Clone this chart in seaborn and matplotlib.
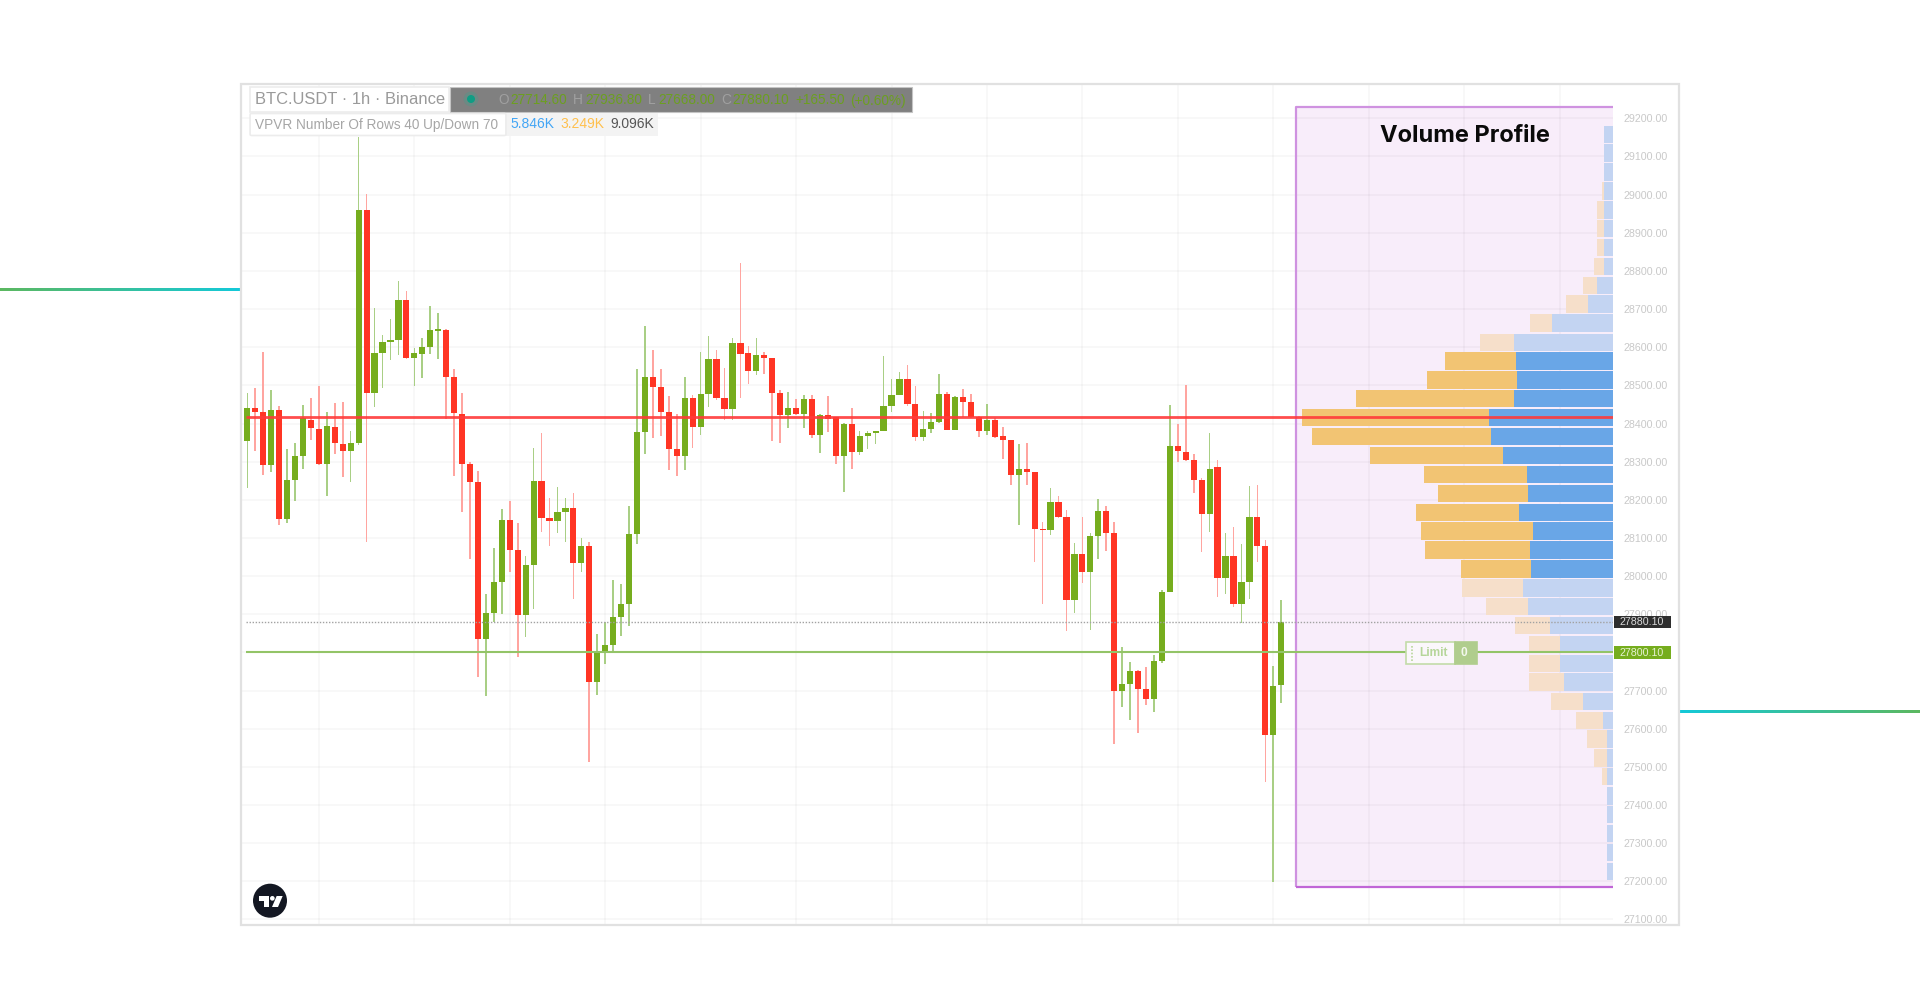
import numpy as np
import pandas as pd
import matplotlib
matplotlib.use("Agg")
import matplotlib.pyplot as plt
from matplotlib.colors import LinearSegmentedColormap
from matplotlib.patches import Rectangle, Ellipse, Polygon, FancyBboxPatch
from matplotlib.lines import Line2D
import seaborn as sns

# ---------- data ----------
opens = [28355,28441,28430,28290,28436,28150,28252,28315,28409,28386,
         28293,28392,28347,28328,28349,28959,28481,28585,28613,28620,
         28724,28572,28583,28601,28643,28645,28522,28426,28295,28246,
         27834,27903,27984,28148,28068,27897,28028,28250,28153,28145,
         28168,28179,28034,28080,27723,27799,27819,27893,27928,28110,
         28377,28521,28495,28430,28333,28315,28467,28391,28477,28570,
         28466,28437,28610,28584,28537,28579,28571,28481,28423,28440,
         28424,28463,28371,28422,28417,28315,28400,28325,28366,28376,
         28380,28446,28476,28516,28450,28364,28386,28405,28477,28384,
         28469,28457,28416,28381,28409,28366,28357,28264,28280,28273,
         28124,28122,28193,28156,27938,28059,28010,28106,28171,28114,
         27699,27718,27752,27704,27679,27777,27958,28341,28326,28304,
         28253,28163,28287,27994,28053,27927,27984,28156,28080,27583,27714.6]
closes = [28441,28431,28290,28436,28150,28252,28315,28414,28388,28293,
          28393,28348,28328,28348,28959,28481,28585,28613,28620,28724,
          28572,28584,28601,28645,28647,28522,28428,28295,28246,27834,
          27902,27984,28148,28068,27897,28028,28250,28153,28145,28168,
          28179,28035,28080,27723,27799,27819,27893,27928,28110,28377,
          28521,28495,28430,28334,28315,28467,28391,28477,28570,28466,
          28437,28610,28582,28537,28579,28571,28481,28423,28440,28424,
          28463,28371,28422,28413,28315,28400,28325,28366,28376,28381,
          28446,28476,28516,28450,28364,28386,28405,28477,28384,28470,
          28457,28416,28381,28409,28365,28356,28264,28280,28273,28123,
          28121,28193,28155,27938,28059,28010,28106,28171,28114,27699,
          27718,27752,27704,27679,27777,27958,28341,28327,28304,28253,
          28163,28282,27994,28053,27927,27985,28156,28080,27583,27713,27880.1]
highs = [28479,28492,28588,28489,28446,28332,28348,28448,28466,28499,
         28429,28455,28457,28381,29152,29001,28702,28632,28674,28774,
         28748,28597,28623,28709,28689,28649,28543,28481,28300,28275,
         27953,28074,28177,28197,28138,28053,28336,28374,28206,28234,
         28204,28217,28101,28090,27847,27880,27991,27979,28184,28544,
         28655,28592,28543,28472,28426,28523,28474,28588,28630,28594,
         28546,28625,28820,28603,28625,28588,28573,28488,28483,28463,
         28474,28476,28424,28473,28418,28402,28441,28380,28380,28381,
         28577,28516,28536,28553,28499,28433,28428,28529,28483,28472,
         28490,28477,28419,28450,28415,28390,28358,28346,28348,28274,
         28142,28230,28211,28173,28087,28156,28114,28203,28183,28142,
         27813,27775,27755,27762,27793,27963,28448,28398,28501,28320,
         28256,28374,28304,28112,28129,28084,28236,28238,28094,27764,27936.8]
lows = [28232,28328,28266,28272,28135,28140,28196,28280,28356,28291,
        28211,28319,28259,28246,28343,28090,28444,28492,28566,28579,
        28568,28499,28518,28581,28568,28411,28262,28169,28046,27736,
        27686,27880,27900,28011,27787,27841,27915,28116,28080,28112,
        28090,27941,28011,27512,27688,27769,27799,27844,27870,28083,
        28320,28361,28367,28278,28263,28278,28336,28369,28444,28461,
        28409,28409,28468,28503,28527,28531,28354,28350,28389,28422,
        28389,28361,28322,28377,28293,28221,28280,28317,28332,28345,
        28380,28430,28474,28446,28355,28355,28374,28402,28383,28383,
        28416,28415,28365,28370,28361,28307,28240,28135,28240,28038,
        27928,28108,28153,27857,27902,27981,27858,28044,28066,27561,
        27658,27623,27589,27661,27644,27771,27958,28300,28301,28217,
        28064,28116,27946,27953,27920,27876,27939,28038,27461,27199,27668]

row_prices = [27226,27276,27325,27375,27424,27474,27523,27573,27622,27672,
              27722,27771,27821,27870,27920,27969,28019,28068,28118,28167,
              28217,28267,28316,28366,28415,28465,28514,28564,28613,28663,
              28713,28762,28812,28861,28911,28960,29010,29059,29109,29158]
vol_up = [.155,.155,.155,.155,.155,.155,.155,.155,.272,.870,
          1.427,1.532,1.532,1.846,2.482,2.616,2.403,2.432,2.344,2.745,
          2.470,2.511,3.214,3.566,3.613,2.880,2.792,2.833,2.901,1.779,
          .724,.448,.243,.243,.243,.243,.243,.243,.243,.243]
vol_down = [0,0,0,0,0,.155,.381,.607,.791,.929,
            1.026,.917,.917,1.017,1.222,1.796,2.051,3.056,3.273,3.009,
            2.637,3.027,3.906,5.245,5.479,4.638,2.646,2.072,.987,.653,
            .645,.410,.314,.205,.205,.205,.059,0,0,0]
value_area = [0]*16 + [1]*12 + [0]*12

price_ticks = [27100,27200,27300,27400,27500,27600,27700,27800,27900,28000,28100,
               28200,28300,28400,28500,28600,28700,28800,28900,29000,29100,29200]
time_ticks = [9,21,33,45,57,69,81,93,105,117,129,141,153,165]
poc_price = 28417
last_price = 27880.10
limit_price = 27800.10

# ---------- style ----------
GREEN, RED = "#76ad1e", "#ff3524"
GREEN_W, RED_W = "#a9cf85", "#ffa5a0"

sns.set_theme(style="white")
plt.rcParams["font.family"] = ["Liberation Sans", "DejaVu Sans"]

W, H = 1920, 1008
fig = plt.figure(figsize=(19.2, 10.08), dpi=100, facecolor="white")
fx = lambda x: x / W
fy = lambda y: 1 - y / H
L, R, T, B = 241.5, 1612.7, 84.0, 925.0
ax = fig.add_axes([fx(L), fy(B), (R - L) / W, (B - T) / H], facecolor="white")

def rect(x0, y0, x1, y1, z=6, **kw):
    p = Rectangle((fx(x0), fy(y1)), (x1 - x0) / W, (y1 - y0) / H,
                  transform=fig.transFigure, zorder=z, **kw)
    fig.add_artist(p)
    return p

def txt(x, y, s, z=8, **kw):
    kw.setdefault("va", "center")
    return fig.text(fx(x), fy(y), s, zorder=z, **kw)

# ---------- candles ----------
df = pd.DataFrame({"i": range(len(opens)), "o": opens, "c": closes, "h": highs, "l": lows})
df["top"] = df[["o", "c"]].max(axis=1)
df["bot"] = df[["o", "c"]].min(axis=1)
for up, wick_c, body_c in [(True, GREEN_W, GREEN), (False, RED_W, RED)]:
    d = df[(df.c >= df.o) == up]
    sns.barplot(x=d.i.values, y=(d.h - d.l).values, bottom=d.l.values, orient="x", native_scale=True,
                width=0.2, color=wick_c, saturation=1, errorbar=None, linewidth=0, zorder=3, ax=ax)
    sns.barplot(x=d.i.values, y=(d.top - d.bot).values, bottom=d.bot.values, orient="x", native_scale=True,
                width=0.78, color=body_c, saturation=1, errorbar=None, linewidth=0, zorder=4, ax=ax)

XMIN, XMAX = -0.73, 171.68
YMIN, YMAX = 27085.4, 29290
ax.set_xlim(XMIN, XMAX)
ax.set_ylim(YMIN, YMAX)

# volume-profile background
ax.add_patch(Rectangle((131.86, 27184), XMAX - 131.86, 29228.8 - 27184,
                       facecolor="#f8edfa", edgecolor="none", zorder=1))
ax.plot([131.86, 131.86, XMAX], [27184, 29228.8, 29228.8], color="#cf92e0", lw=1.6, zorder=2, solid_capstyle="butt")
ax.plot([131.86, XMAX], [27184, 27184], color="#c066d6", lw=1.6, zorder=2, solid_capstyle="butt")

# grid and axis
ax.set_xticks(time_ticks)
ax.set_yticks(price_ticks)
ax.set_xticklabels([])
ax.set_yticklabels([f"{p:.2f}" for p in price_ticks])
ax.set_xlabel("")
ax.set_ylabel("")
ax.yaxis.tick_right()
ax.tick_params(axis="both", length=0)
ax.tick_params(axis="y", labelsize=7.7, labelcolor="#c9c9c9", pad=7.5)
ax.set_axisbelow("line")
ax.grid(True, color="#000000", alpha=0.03, lw=1.3)
for s in ax.spines.values():
    s.set_visible(False)

# ---------- volume profile ----------
ax2 = ax.twiny()
ax2.patch.set_visible(False)
vp = pd.DataFrame({"p": row_prices, "up": vol_up, "down": vol_down, "va": value_area})
for flag, c_up, c_down in [(1, "#69a6e7", "#f2c473"), (0, "#c3d4f2", "#f6dfca")]:
    d = vp[vp.va == flag]
    sns.barplot(y=d.p.values, x=d.up.values, orient="y", native_scale=True, width=0.93,
                color=c_up, saturation=1, errorbar=None, linewidth=0, zorder=2, ax=ax2)
    d2 = d[d.down > 0]
    sns.barplot(y=d2.p.values, x=d2.down.values, left=d2.up.values, orient="y", native_scale=True, width=0.93,
                color=c_down, saturation=1, errorbar=None, linewidth=0, zorder=2, ax=ax2)
ax2.set_xlim(40.18, 0)
ax2.set_ylim(YMIN, YMAX)
ax2.set_xticks([])
ax2.set_xlabel("")
ax2.set_ylabel("")
ax2.tick_params(axis="both", length=0)
ax2.yaxis.set_visible(False)
for s in ax2.spines.values():
    s.set_visible(False)

# price lines
tr = ax2.get_yaxis_transform()
x_l = (246 - L) / (R - L)
ax2.plot([x_l, 1], [poc_price] * 2, transform=tr, color="#ff3a3a", lw=2.0, alpha=0.9, zorder=6, solid_capstyle="butt")
ax2.plot([x_l, 1], [limit_price] * 2, transform=tr, color="#93c467", lw=1.5, zorder=6, solid_capstyle="butt")
ax2.plot([x_l, 1], [last_price] * 2, transform=tr, color="#a2a2a2", lw=1.0, ls=(0, (1, 1.2)), zorder=6)

# ---------- frame and stubs ----------
rect(L - 1, T, 1679.3, B, z=6, facecolor="none", edgecolor="#e1e1e1", lw=1.6)
cmap = LinearSegmentedColormap.from_list("stub", ["#5cb860", "#14c9d9"])
grad = np.linspace(0, 1, 256)[None, :]
for x0, x1, yc, g in [(0, 240, 289.3, grad), (1680, 1920, 711.7, grad[:, ::-1])]:
    a = fig.add_axes([fx(x0), fy(yc + 1.5), (x1 - x0) / W, 3 / H])
    a.imshow(g, aspect="auto", cmap=cmap)
    a.axis("off")

# ---------- header ----------
rect(250, 86.7, 449, 111.7, z=7, facecolor="white", edgecolor="#ececec", lw=1.2)
txt(255, 99, "BTC.USDT · 1h · Binance", fontsize=11.9, color="#9a9a9a")
rect(450, 86.7, 912.4, 111.7, z=7, facecolor="#808080", edgecolor="#c4c4c4", lw=0.8)
fig.add_artist(Ellipse((fx(471), fy(99)), 15 / W, 15 / H, transform=fig.transFigure,
                       facecolor="#6b8a84", edgecolor="none", zorder=8))
fig.add_artist(Ellipse((fx(471), fy(99)), 8 / W, 8 / H, transform=fig.transFigure,
                       facecolor="#0f9d84", edgecolor="none", zorder=9))
LBL, NUM = "#a0a0a0", "#6c9f20"
for x, s, c in [(498, "O", LBL), (510, "27714.60", NUM), (573, "H", LBL), (585, "27936.80", NUM),
                (648, "L", LBL), (658, "27668.00", NUM), (721, "C", LBL), (732.5, "27880.10", NUM),
                (795.7, "+165.50", NUM), (850.4, "(+0.60%)", NUM)]:
    txt(x, 100.5, s, fontsize=9.8, color=c)

rect(506, 113, 658, 136, z=7, facecolor="#f3f3f3", edgecolor="none")
fig.add_artist(FancyBboxPatch((fx(252), fy(134.5)), 252 / W, 20 / H, boxstyle="round,pad=0.001",
                              transform=fig.transFigure, facecolor="white", edgecolor="#ececec", lw=1.2, zorder=7))
txt(255, 124.5, "VPVR Number Of Rows 40 Up/Down 70", fontsize=9.85, color="#a6a6a6")
txt(510.7, 124.5, "5.846K", fontsize=10, color="#42a5f5")
txt(560.7, 124.5, "3.249K", fontsize=10, color="#ffc04d")
txt(610, 124.5, "9.096K", fontsize=10, color="#555555")

txt(1465, 136.5, "Volume Profile", fontsize=17, fontweight="bold", family="Inter", color="#0a0a0a", ha="center")

# ---------- price tags ----------
rect(1613.5, 615.7, 1670.7, 628.3, z=7, facecolor="#2e2e2e", edgecolor="none")
txt(1642, 622, f"{last_price:.2f}", fontsize=7.7, color="#d8d8d8", ha="center")
rect(1613.5, 646, 1670.7, 659.3, z=7, facecolor=GREEN, edgecolor="none")
txt(1642, 652.7, f"{limit_price:.2f}", fontsize=7.7, color="#e6f2d2", ha="center")

# ---------- limit widget ----------
rect(1405.7, 642, 1454.7, 664, z=7, facecolor="#fbf7fb", edgecolor="#c3dca9", lw=1.2)
rect(1454.7, 642, 1476.7, 664, z=7, facecolor="#b0cd8d", edgecolor="#b0cd8d", lw=1.2)
fig.add_artist(Line2D([fx(1411.7)] * 2, [fy(645.5), fy(660.5)], transform=fig.transFigure,
                      color="#b9d79c", lw=1.2, ls=(0, (1, 1)), zorder=8))
txt(1433, 653, "Limit", fontsize=8.6, fontweight="bold", color="#b6d69a", ha="center")
txt(1463.7, 653, "0", fontsize=8.6, fontweight="bold", color="#f4f8ee", ha="center")

# ---------- logo ----------
lx = lambda z: fx(230 + z / 3)
ly = lambda z: fy(660 + z / 3)
fig.add_artist(Ellipse((fx(270), fy(900.7)), 34 / W, 34 / H, transform=fig.transFigure,
                       facecolor="#131722", edgecolor="none", zorder=8))
for poly in ([(88, 708), (118, 708), (118, 741), (103, 741), (103, 722), (88, 722)],
             [(140, 708), (158, 708), (144, 741), (126, 741)]):
    fig.add_artist(Polygon([(lx(a), ly(b)) for a, b in poly], closed=True, transform=fig.transFigure,
                           facecolor="white", edgecolor="none", zorder=9))
fig.add_artist(Ellipse((lx(127), ly(715)), 14 / 3 / W, 14 / 3 / H, transform=fig.transFigure,
                       facecolor="white", edgecolor="none", zorder=9))

fig.savefig("out.png", dpi=100, facecolor="white")
